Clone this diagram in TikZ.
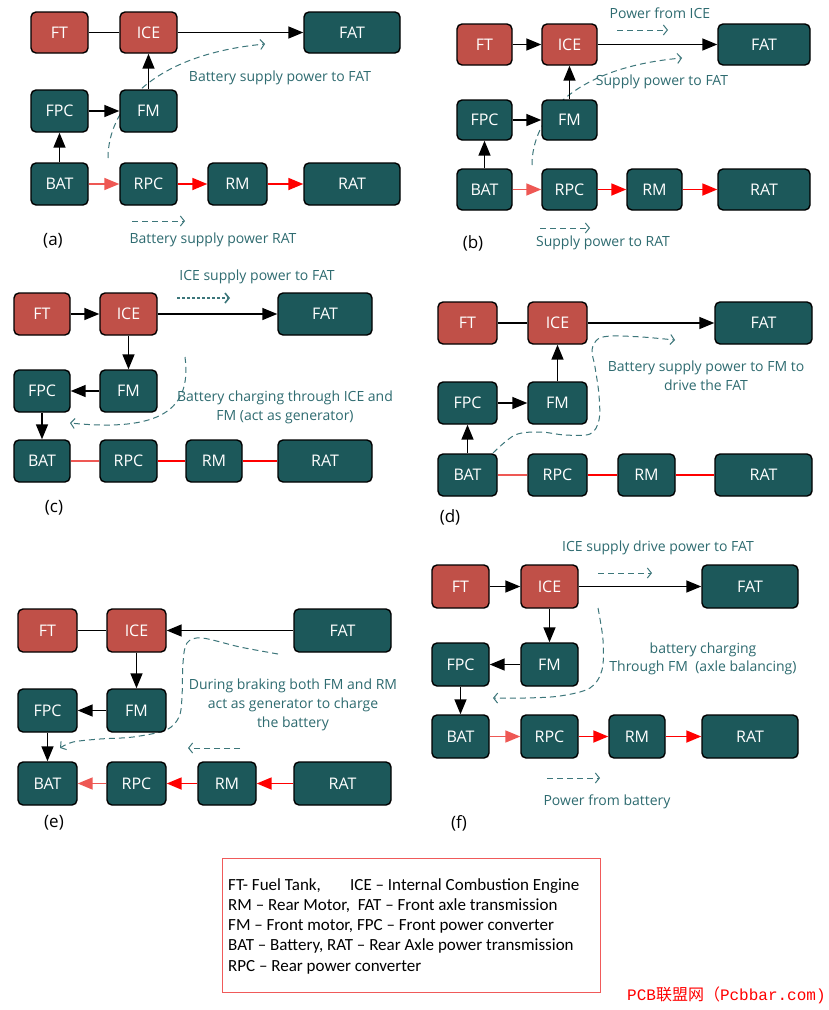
\documentclass[tikz,border=0pt]{standalone}
\usepackage{fontspec}
\setmainfont{Open Sans}
\newfontfamily\legfont{Carlito}
\newfontfamily\cjkfont{Noto Sans CJK SC}
\newfontfamily\wmono{Liberation Mono}
\usetikzlibrary{arrows.meta}
\definecolor{teal1}{RGB}{28,88,90}
\definecolor{red1}{RGB}{192,80,72}
\definecolor{lblc}{RGB}{46,107,112}
\definecolor{dsh}{RGB}{60,118,122}
\definecolor{salm}{RGB}{238,88,84}
\definecolor{rd}{RGB}{255,0,0}
\definecolor{legred}{RGB}{240,90,90}
\tikzset{
 box/.style={draw=black, line width=1.4pt, rounded corners=5pt, text=white, font=\fontsize{16}{18}\selectfont, inner sep=0pt},
 tbox/.style={box, fill=teal1},
 rbox/.style={box, fill=red1},
 blk/.style={line width=1.5pt, -{Triangle[length=15pt,width=12pt]}},
 blkline/.style={line width=1.5pt},
 rarr/.style={draw=rd, line width=1.8pt, -{Triangle[length=15pt,width=12pt]}},
 sarr/.style={draw=salm, line width=1.6pt, -{Triangle[length=15pt,width=12pt]}},
 rline/.style={draw=rd, line width=2pt},
 sline/.style={draw=salm, line width=1.5pt},
 dsharr/.style={draw=dsh, line width=1pt, dash pattern=on 6pt off 4pt, -{Straight Barb[length=4pt,width=10pt]}},
 dotarr/.style={draw=dsh, line width=1.6pt, dash pattern=on 3pt off 2pt, -{Straight Barb[length=4pt,width=10pt]}},
 lbl/.style={text=lblc, font=\fontsize{14}{19}\selectfont, align=center, inner sep=0pt},
 plabel/.style={font=\fontsize{17}{20}\selectfont, text=black, inner sep=0pt},
}
\newcommand\bx[7]{\node[#6, minimum width={(#4-#2)*1pt}, minimum height={(#5-#3)*1pt}] (#1) at ({(#2+#4)/2},{(#3+#5)/2}) {#7};}
\begin{document}
\begin{tikzpicture}[x=1pt,y=-1pt]
\useasboundingbox[fill=white] (0,0) rectangle (829,1010);

% ================= (a)
\draw[dsharr] (108,158) .. controls (108,110) and (150,55) .. (265,44);
\bx{aFT}{31}{12}{88}{53}{rbox}{FT}
\bx{aICE}{120}{12}{177}{53}{rbox}{ICE}
\bx{aFAT}{304}{12}{400}{53}{tbox}{FAT}
\bx{aFPC}{31}{90}{88}{132}{tbox}{FPC}
\bx{aFM}{120}{90}{177}{132}{tbox}{FM}
\bx{aBAT}{31}{163}{88}{205}{tbox}{BAT}
\bx{aRPC}{120}{163}{177}{205}{tbox}{RPC}
\bx{aRM}{208}{163}{267}{205}{tbox}{RM}
\bx{aRAT}{304}{163}{400}{205}{tbox}{RAT}
\draw[blkline] (aFT) -- (aICE);
\draw[blk] (aICE) -- (aFAT);
\draw[blk] (aFM) -- (aICE);
\draw[blk] (aFPC) -- (aFM);
\draw[blk] (aBAT) -- (aFPC);
\draw[sarr] (aBAT) -- (aRPC);
\draw[rarr] (aRPC) -- (aRM);
\draw[rarr] (aRM) -- (aRAT);
\node[lbl] (aL1) at (280,78) {Battery supply power to FAT};
\draw[dsharr] (132,221) -- (185,221);
\node[lbl] (aL2) at (213,240) {Battery supply power RAT};
\node[plabel] (aP) at (53,241) {(a)};

% ================= (b)
\draw[dsharr] (532,165) .. controls (532,120) and (570,68) .. (682,58);
\bx{bFT}{457}{24}{512}{65}{rbox}{FT}
\bx{bICE}{542}{24}{597}{65}{rbox}{ICE}
\bx{bFAT}{718}{24}{810}{65}{tbox}{FAT}
\bx{bFPC}{457}{100}{512}{140}{tbox}{FPC}
\bx{bFM}{542}{100}{597}{140}{tbox}{FM}
\bx{bBAT}{457}{169}{512}{210}{tbox}{BAT}
\bx{bRPC}{542}{169}{597}{210}{tbox}{RPC}
\bx{bRM}{627}{169}{682}{210}{tbox}{RM}
\bx{bRAT}{718}{169}{810}{210}{tbox}{RAT}
\draw[blk] (bFT) -- (bICE);
\draw[blk] (bICE) -- (bFAT);
\draw[blk] (bFM) -- (bICE);
\draw[blk] (bFPC) -- (bFM);
\draw[blk] (bBAT) -- (bFPC);
\draw[sarr] (bBAT) -- (bRPC);
\draw[rarr] (bRPC) -- (bRM);
\draw[rarr] (bRM) -- (bRAT);
\node[lbl] (bL1) at (660,13) {Power from ICE};
\draw[dsharr] (617,30) -- (668,30);
\node[lbl] (bL2) at (662,82) {Supply power to FAT};
\draw[dsharr] (540,228) -- (590,228);
\node[lbl] (bL3) at (603,243) {Supply power to RAT};
\node[plabel] (bP) at (473,243) {(b)};

% ================= (c)
\draw[dsharr] (185,357) .. controls (192,410) and (160,432) .. (70,423);
\bx{cFT}{14}{293}{70}{335}{rbox}{FT}
\bx{cICE}{100}{293}{157}{335}{rbox}{ICE}
\bx{cFAT}{278}{293}{372}{335}{tbox}{FAT}
\bx{cFPC}{14}{370}{70}{412}{tbox}{FPC}
\bx{cFM}{100}{370}{157}{412}{tbox}{FM}
\bx{cBAT}{14}{440}{70}{482}{tbox}{BAT}
\bx{cRPC}{100}{440}{157}{482}{tbox}{RPC}
\bx{cRM}{186}{440}{242}{482}{tbox}{RM}
\bx{cRAT}{278}{440}{372}{482}{tbox}{RAT}
\draw[blk] (cFT) -- (cICE);
\draw[blk] (cICE) -- (cFAT);
\draw[blk] (cICE) -- (cFM);
\draw[blk] (cFM) -- (cFPC);
\draw[blk] (cFPC) -- (cBAT);
\draw[sline] (cBAT) -- (cRPC);
\draw[rline] (cRPC) -- (cRM);
\draw[rline] (cRM) -- (cRAT);
\node[lbl] (cL1) at (257,277) {ICE supply power to FAT};
\draw[dotarr] (177,298) -- (230,298);
\node[lbl] (cL2) at (285,407) {Battery charging through ICE and\\FM (act as generator)};
\node[plabel] (cP) at (54,508) {(c)};

% ================= (d)
\draw[dsharr] plot[smooth, tension=0.55] coordinates {(493,453) (515,435) (540,432) (565,435) (590,434) (599,420) (599,395) (595,367) (592,350) (598,339) (612,336) (642,337) (675,340)};
\bx{dFT}{438}{302}{497}{344}{rbox}{FT}
\bx{dICE}{528}{302}{587}{344}{rbox}{ICE}
\bx{dFAT}{715}{302}{812}{344}{tbox}{FAT}
\bx{dFPC}{438}{382}{497}{424}{tbox}{FPC}
\bx{dFM}{528}{382}{587}{424}{tbox}{FM}
\bx{dBAT}{438}{454}{497}{496}{tbox}{BAT}
\bx{dRPC}{528}{454}{587}{496}{tbox}{RPC}
\bx{dRM}{618}{454}{675}{496}{tbox}{RM}
\bx{dRAT}{715}{454}{812}{496}{tbox}{RAT}
\draw[blkline] (dFT) -- (dICE);
\draw[blk] (dICE) -- (dFAT);
\draw[blk] (dFM) -- (dICE);
\draw[blk] (dFPC) -- (dFM);
\draw[blk] (dBAT) -- (dFPC);
\draw[sline] (dBAT) -- (dRPC);
\draw[rline] (dRPC) -- (dRM);
\draw[rline] (dRM) -- (dRAT);
\node[lbl] (dL1) at (706,376) {Battery supply power to FM to\\drive the FAT};
\node[plabel] (dP) at (450,517) {(d)};

% ================= (e)
\draw[dsharr] plot[smooth, tension=0.55] coordinates {(278,654) (240,647) (202,638) (187,643) (183,663) (182,697) (179,717) (166,730) (133,737) (100,739) (73,742) (60,748)};
\bx{eFT}{18}{609}{77}{652}{rbox}{FT}
\bx{eICE}{107}{609}{166}{652}{rbox}{ICE}
\bx{eFAT}{294}{609}{391}{652}{tbox}{FAT}
\bx{eFPC}{18}{689}{77}{732}{tbox}{FPC}
\bx{eFM}{107}{689}{166}{732}{tbox}{FM}
\bx{eBAT}{18}{762}{77}{805}{tbox}{BAT}
\bx{eRPC}{107}{762}{166}{805}{tbox}{RPC}
\bx{eRM}{198}{762}{256}{805}{tbox}{RM}
\bx{eRAT}{294}{762}{391}{805}{tbox}{RAT}
\draw[blkline] (eFT) -- (eICE);
\draw[blk] (eFAT) -- (eICE);
\draw[blk] (eICE) -- (eFM);
\draw[blk] (eFM) -- (eFPC);
\draw[blk] (eFPC) -- (eBAT);
\draw[sarr] (eRPC) -- (eBAT);
\draw[rarr] (eRM) -- (eRPC);
\draw[rarr] (eRAT) -- (eRM);
\node[lbl] (eL1) at (293,705) {During braking both FM and RM\\act as generator to charge\\the battery};
\draw[dsharr] (240,748) -- (188,748);
\node[plabel] (eP) at (54,823) {(e)};

% ================= (f)
\draw[dsharr] plot[smooth, tension=0.55] coordinates {(598,608) (603,640) (602,670) (590,688) (560,696) (525,698) (493,698)};
\bx{fFT}{432}{565}{489}{608}{rbox}{FT}
\bx{fICE}{521}{565}{578}{608}{rbox}{ICE}
\bx{fFAT}{702}{565}{798}{608}{tbox}{FAT}
\bx{fFPC}{432}{643}{489}{686}{tbox}{FPC}
\bx{fFM}{521}{643}{578}{686}{tbox}{FM}
\bx{fBAT}{432}{715}{489}{758}{tbox}{BAT}
\bx{fRPC}{521}{715}{578}{758}{tbox}{RPC}
\bx{fRM}{609}{715}{665}{758}{tbox}{RM}
\bx{fRAT}{702}{715}{798}{758}{tbox}{RAT}
\draw[blk] (fFT) -- (fICE);
\draw[blk] (fICE) -- (fFAT);
\draw[blk] (fICE) -- (fFM);
\draw[blk] (fFM) -- (fFPC);
\draw[blk] (fFPC) -- (fBAT);
\draw[sarr] (fBAT) -- (fRPC);
\draw[rarr] (fRPC) -- (fRM);
\draw[rarr] (fRM) -- (fRAT);
\node[lbl] (fL1) at (658,548) {ICE supply drive power to FAT};
\draw[dsharr] (598,573) -- (652,573);
\node[lbl, font=\fontsize{14}{18}\selectfont] (fL2) at (703,659) {battery charging\\Through FM\ \ (axle balancing)};
\draw[dsharr] (547,778) -- (600,778);
\node[lbl] (fL3) at (607,802) {Power from battery};
\node[plabel] (fP) at (459,823) {(f)};

% ================= legend
\node[draw=legred, line width=1pt, minimum width=378pt, minimum height=134pt, inner sep=0pt] (leg) at (411,925) {};
\node[anchor=north west, align=left, inner sep=0pt, font=\legfont\fontsize{17}{20.3}\selectfont] (legtxt) at (228,878)
 {\makebox[122pt][l]{FT- Fuel Tank,}ICE – Internal Combustion Engine\\
  RM – Rear Motor,\ \ FAT – Front axle transmission\\
  FM – Front motor, FPC – Front power converter\\
  BAT – Battery, RAT – Rear Axle power transmission\\
  RPC – Rear power converter};

% ================= watermark
\node[anchor=west, inner sep=0pt, text=rd, font=\fontsize{16}{17}\selectfont] (wm) at (627,995)
 {\wmono PCB\cjkfont 联盟网（\wmono Pcbbar.com)};
\end{tikzpicture}
\end{document}
